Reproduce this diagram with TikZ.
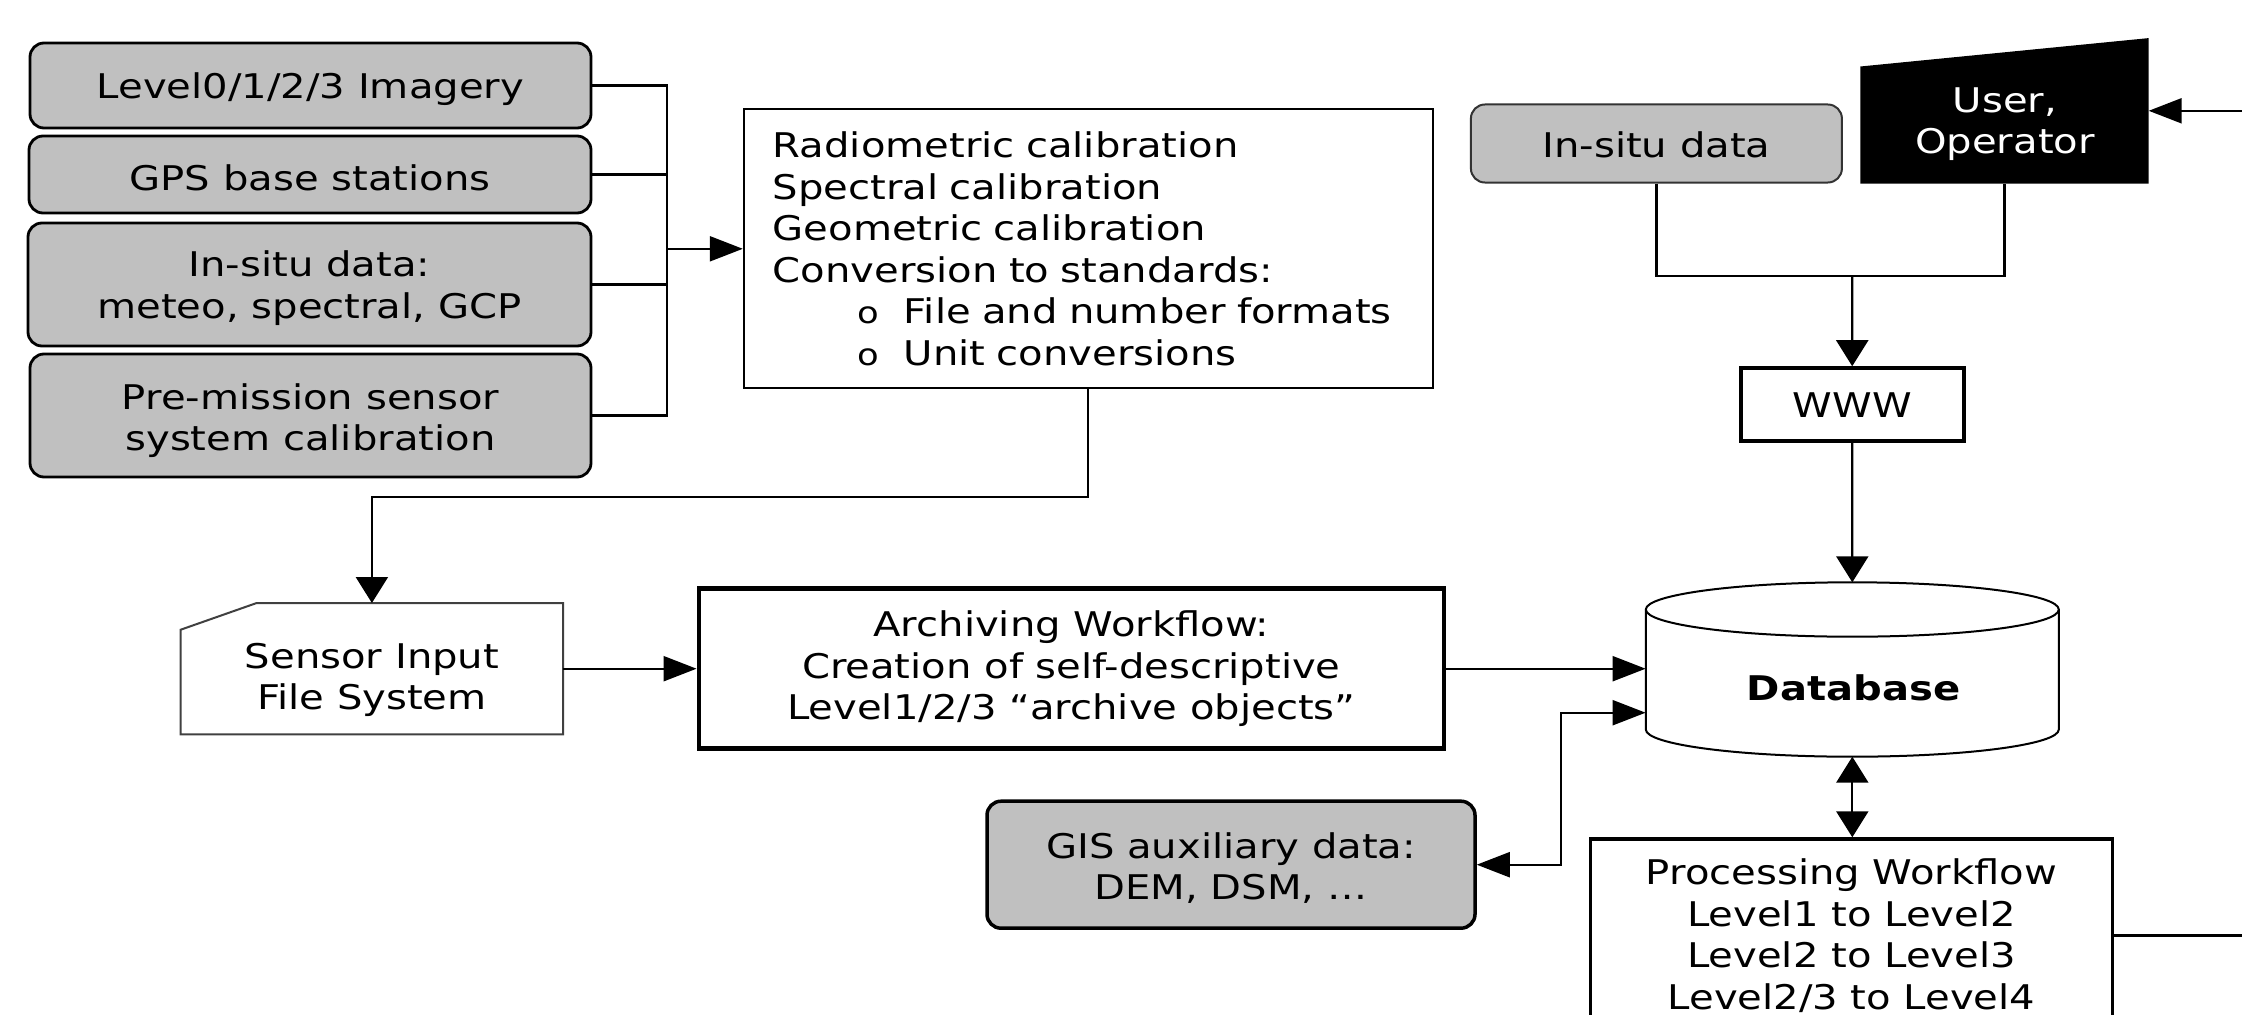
\documentclass[tikz,border=0pt]{standalone}
\usepackage{fontspec}
\setmainfont{DejaVu Sans}[FakeStretch=1.18]
\usetikzlibrary{arrows.meta,calc}
\definecolor{boxgray}{RGB}{192,192,192}
\newcommand\mybul{{\fontsize{30}{30}\selectfont o}}
\newcommand\lowstrut{\rule{0pt}{33pt}}
\tikzset{
  graybox/.style={draw=black, fill=boxgray, rounded corners=14pt, line width=2.8pt, align=center, inner sep=0pt},
  conn/.style={line width=2.2pt},
  harr/.style={-{Triangle[length=33pt,width=25pt]}},
  varr/.style={-{Triangle[length=26pt,width=32pt]}},
  hboth/.style={{Triangle[length=33pt,width=25pt]}-{Triangle[length=33pt,width=25pt]}},
  vboth/.style={{Triangle[length=26pt,width=32pt]}-{Triangle[length=26pt,width=32pt]}},
}
\begin{document}
\begin{tikzpicture}[x=1pt,y=-1pt,font=\fontsize{34}{41.5}\selectfont]
\useasboundingbox (0,0) rectangle (2242,1014);
\clip (0,0) rectangle (2242,1014);

% left input boxes
\node[graybox, minimum width=561pt, minimum height=85pt] (lv) at (310.5,85.5) {\lowstrut Level0/1/2/3 Imagery};
\node[graybox, minimum width=562pt, minimum height=77pt] (gps) at (310,174.5) {\lowstrut GPS base stations};
\node[graybox, minimum width=563pt, minimum height=123pt] (ins) at (309.5,284.5) {\lowstrut In-situ data:\\meteo, spectral, GCP};
\node[graybox, minimum width=561pt, minimum height=123pt] (pre) at (310.5,415.5) {\rule{0pt}{36pt}Pre-mission sensor\\system calibration};

% calibration box
\node[draw, line width=2pt, minimum width=689pt, minimum height=279pt, text width=631pt, align=left, inner xsep=29pt, inner ysep=0pt] (cal) at (1088.3,248.8)
 {Radiometric calibration\\Spectral calibration\\Geometric calibration\\Conversion to standards:\\
  \hspace*{85pt}\makebox[46pt][l]{\mybul}File and number formats\\
  \hspace*{85pt}\makebox[46pt][l]{\mybul}Unit conversions};

% sensor input file system
\node[minimum width=382pt, minimum height=131pt, inner sep=0pt] (sen) at (371.9,668.7) {};
\draw[line width=2pt, draw=black!75] ($(sen.north west)+(0,26.7)$) -- ($(sen.north west)+(76,0)$) -- (sen.north east) -- (sen.south east) -- (sen.south west) -- cycle;
\node[align=center] (sentext) at (372,680) {Sensor Input\\File System};

% archiving workflow
\node[draw, line width=4.5pt, minimum width=745pt, minimum height=160pt, align=center, inner sep=0pt] (arc) at (1071.3,668.7)
 {Archiving Workflow:\\Creation of self-descriptive\\Level1/2/3 “archive objects”};

% database
\node[minimum width=413pt, minimum height=174pt, inner sep=0pt] (db) at (1852.3,669.5) {};
\draw[line width=2pt, fill=white] (1645.8,609.5) -- (1645.8,729.5) arc[start angle=180, end angle=360, x radius=206.5pt, y radius=27.2pt] -- (2058.8,609.5);
\draw[line width=2pt, fill=white] (1852.3,609.5) ellipse[x radius=206.5pt, y radius=27.2pt];
\node[font=\fontsize{34}{41.5}\selectfont\bfseries] (dbtext) at (1853.6,688.3) {Database};

% GIS
\node[graybox, line width=3.5pt, minimum width=488pt, minimum height=127pt] (gis) at (1231,864.7) {\lowstrut GIS auxiliary data:\\DEM, DSM, …};

% processing
\node[draw, line width=3.5pt, minimum width=522pt, minimum height=193pt, align=center, inner sep=0pt] (proc) at (1851.5,935.5)
 {Processing Workflow\\Level1 to Level2\\Level2 to Level3\\Level2/3 to Level4};

% in-situ data (right)
\node[graybox, line width=2pt, draw=black!80, minimum width=371pt, minimum height=78pt] (ins2) at (1656.4,143.5) {\rule{0pt}{29pt}In-situ data};

% user, operator
\node[minimum width=288pt, minimum height=145pt, inner sep=0pt] (usr) at (2004.5,110.8) {};
\fill (usr.south west) -- (usr.south east) -- (usr.north east) -- ($(usr.north west)+(0,28.4)$) -- cycle;
\node[text=white, align=center] (usrtext) at (2005,124) {User,\\Operator};

% WWW
\node[draw, line width=4pt, minimum width=223pt, minimum height=73pt] (www) at (1852.2,404.7) {WWW};

% connectors
\coordinate (bus) at (667,248.8);
\draw[conn] (lv.east) -| (bus);
\draw[conn] (gps.east) -| (bus);
\draw[conn] (ins.east) -| (bus);
\draw[conn] (pre.east) -| (bus);
\draw[conn,harr] (bus) -- (cal.west);

\draw[conn,varr] (cal.south) -- ++(0,107.7) -| (sen.north);
\draw[conn,harr] (sen.east) -- (arc.west);
\draw[conn,harr] (arc.east) -- (arc.east -| db.west);

\coordinate (dbin) at ($(db.west)+(0,43.2)$);
\draw[conn,hboth] (gis.east) -| ($(dbin)+(-84.4,0)$) -- (dbin);
\draw[conn,vboth] (db.south) -- (db.south |- proc.north);

\coordinate (join) at (1852.3,276);
\draw[conn] (ins2.south) -- (ins2.south |- join) -- (usr.south |- join) -- (usr.south);
\draw[conn,varr] (join) -- (www.north);
\draw[conn,varr] (www.south) -- (db.north);

\coordinate (edge1) at (2242,110.8);
\coordinate (edge2) at (2242,935.5);
\draw[conn,harr] (edge1) -- (usr.east);
\draw[conn] (proc.east) -- (edge2);
\end{tikzpicture}
\end{document}
